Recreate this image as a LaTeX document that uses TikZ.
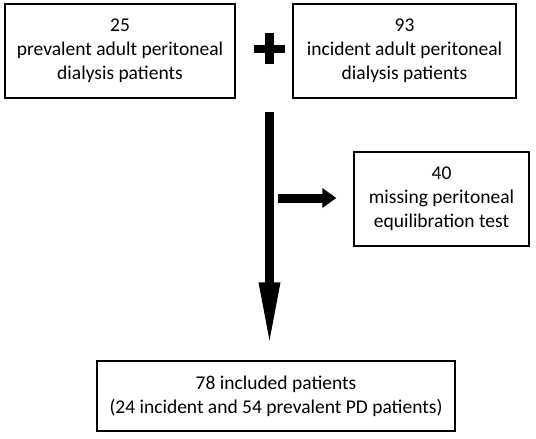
\documentclass[tikz,border=0pt]{standalone}
\usepackage{fontspec}
\setmainfont{Carlito}
\usetikzlibrary{arrows.meta,positioning}

\begin{document}
\begin{tikzpicture}[
    x=1pt,
    y=-1pt,
    box/.style={draw, line width=1.3pt, align=center, inner sep=0pt,
        font=\fontsize{19.5}{24}\selectfont},
    bigarrow/.style={line width=9pt, -{Triangle[length=65pt,width=19pt]}},
    sidearrow/.style={line width=9pt, -{Triangle[length=14pt,width=19pt]}},
    line join=miter
]
    \useasboundingbox (0,0) rectangle (536,439);

    % 两个来源
    \node[box, minimum width=230pt, minimum height=94pt] (prev) at (120,51)
        {25\\prevalent adult peritoneal\\dialysis patients};
    \node[box, minimum width=223pt, minimum height=94pt] (inc) at (404.5,51)
        {93\\incident adult peritoneal\\dialysis patients};

    % 加号
    \coordinate (plus) at (269.5,48.5);
    \draw[line width=8pt] ([xshift=-15.5pt]plus) -- ([xshift=15.5pt]plus);
    \draw[line width=9pt] ([yshift=-15.5pt]plus) -- ([yshift=15.5pt]plus);

    % 排除与纳入
    \node[box, minimum width=175pt, minimum height=94pt] (miss) at (441.5,199)
        {40\\missing peritoneal\\equilibration test};
    \node[box, minimum width=358pt, minimum height=70pt] (incl) at (276,396)
        {78 included patients\\(24 incident and 54 prevalent PD patients)};

    % 箭头
    \coordinate (top) at (269.5,112);
    \coordinate (branch) at (278,198);
    \draw[bigarrow, shorten >=13pt] (top) -- (top |- incl.north);
    \draw[sidearrow, shorten >=17pt] (branch) -- (miss.west |- branch);

\end{tikzpicture}
\end{document}
